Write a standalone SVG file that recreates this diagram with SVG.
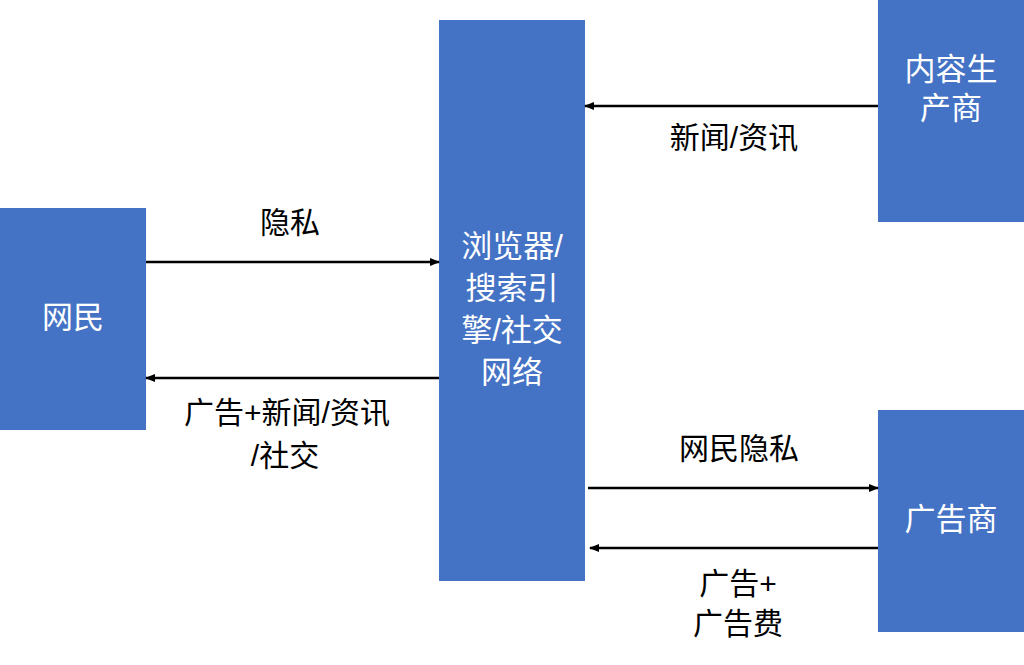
<svg xmlns="http://www.w3.org/2000/svg" width="1024" height="665" viewBox="0 0 1024 665">
<style>
.box{fill:#4472C4}
.w{fill:#fff;font-family:"Liberation Sans","Noto Sans CJK SC",sans-serif;font-size:31px;text-anchor:middle}
.k{fill:#000;font-family:"Liberation Sans","Noto Sans CJK SC",sans-serif;font-size:30px;text-anchor:middle}
.c{stroke:#000;stroke-width:2.5;fill:none;marker-end:url(#a)}
</style>
<defs><marker id="a" markerWidth="10" markerHeight="8" refX="9" refY="4" orient="auto" markerUnits="userSpaceOnUse"><path d="M0,0L10,4L0,8z" fill="#000"/></marker></defs>
<rect width="1024" height="665" fill="#fff"/>
<g id="wangmin"><rect class="box" x="0" y="208" width="146" height="222"/><text class="w" x="73" y="328">网民</text></g>
<g id="center"><rect class="box" x="439" y="20" width="146" height="561"/>
<text class="w" x="512" y="257">浏览器/</text><text class="w" x="512" y="299">搜索引</text><text class="w" x="512" y="341">擎/社交</text><text class="w" x="512" y="383">网络</text></g>
<g id="producer"><rect class="box" x="878" y="0" width="146" height="222"/><text class="w" x="951" y="80">内容生</text><text class="w" x="951" y="119">产商</text></g>
<g id="adv"><rect class="box" x="878" y="410" width="146" height="222"/><text class="w" x="951" y="530">广告商</text></g>
<g id="connectors">
<line class="c" x1="146" y1="262" x2="439" y2="262"/>
<line class="c" x1="439" y1="378" x2="146" y2="378"/>
<line class="c" x1="878" y1="106" x2="585" y2="106"/>
<line class="c" x1="588" y1="488" x2="878" y2="488"/>
<line class="c" x1="878" y1="548" x2="590" y2="548"/>
</g>
<g id="labels">
<text class="k" x="290" y="233">隐私</text>
<text class="k" x="287" y="423">广告+新闻/资讯</text>
<text class="k" x="285" y="466">/社交</text>
<text class="k" x="734" y="148">新闻/资讯</text>
<text class="k" x="739" y="459">网民隐私</text>
<text class="k" x="738" y="594">广告+</text>
<text class="k" x="738" y="634">广告费</text>
</g>
</svg>
